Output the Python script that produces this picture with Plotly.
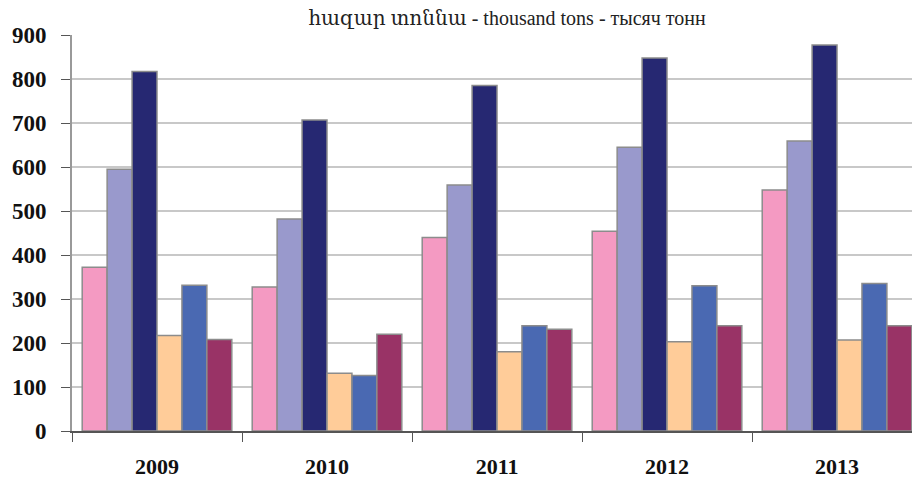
import plotly.graph_objects as go

years = ["2009", "2010", "2011", "2012", "2013"]
series_names = ["Series 1", "Series 2", "Series 3", "Series 4", "Series 5", "Series 6"]
s1 = [372, 327, 440, 454, 548]
s2 = [595, 482, 559, 645, 659]
s3 = [817, 707, 785, 848, 877]
s4 = [217, 131, 180, 203, 207]
s5 = [331, 126, 239, 330, 335]
s6 = [208, 220, 231, 239, 239]
y_ticks = [0, 100, 200, 300, 400, 500, 600, 700, 800, 900]
title_text = "հազար տոննա - thousand tons - тысяч тонн"

colors = ["#F49AC2", "#9999CC", "#262872", "#FFCC99", "#4A69B2", "#993366"]
all_series = [s1, s2, s3, s4, s5, s6]

fig = go.Figure()
for name, vals, c in zip(series_names, all_series, colors):
    fig.add_trace(go.Bar(
        x=years, y=vals, name=name,
        marker=dict(color=c, line=dict(color="#8C8C8C", width=1.5)),
    ))

font_fam = "Liberation Serif, DejaVu Serif, serif"
fig.update_layout(
    width=912, height=480,
    margin=dict(l=72, r=0, t=35, b=49, autoexpand=False),
    paper_bgcolor="white", plot_bgcolor="white",
    barmode="group", bargap=0.12, bargroupgap=0,
    showlegend=False,
    title=dict(text=title_text, x=0.556, xanchor="center", y=0.962, yanchor="middle",
               yref="container", automargin=False,
               font=dict(family=font_fam, size=20, color="#222222")),
    xaxis=dict(
        range=[-0.5, 4.441], tickson="boundaries", ticks="outside", ticklen=9,
        tickcolor="#555555", tickwidth=1, automargin=False,
        showline=True, linecolor="#555555", linewidth=1.5,
        showgrid=False, ticklabelstandoff=15,
        tickfont=dict(family=font_fam, size=22, color="#111111", weight="bold"),
    ),
    yaxis=dict(
        range=[0, 900], tickvals=y_ticks, ticks="outside", ticklen=9,
        tickcolor="#555555", tickwidth=1, automargin=False,
        showline=True, linecolor="#999999", linewidth=2,
        showgrid=True, gridcolor="#C8C8C8", gridwidth=2,
        zeroline=False, ticklabelstandoff=10,
        tickfont=dict(family=font_fam, size=23, color="#111111", weight="bold"),
    ),
)

fig.write_html(
    "out.html",
    config={"displayModeBar": False},
    post_script="document.body.style.margin='0';document.body.style.overflow='hidden';",
)
